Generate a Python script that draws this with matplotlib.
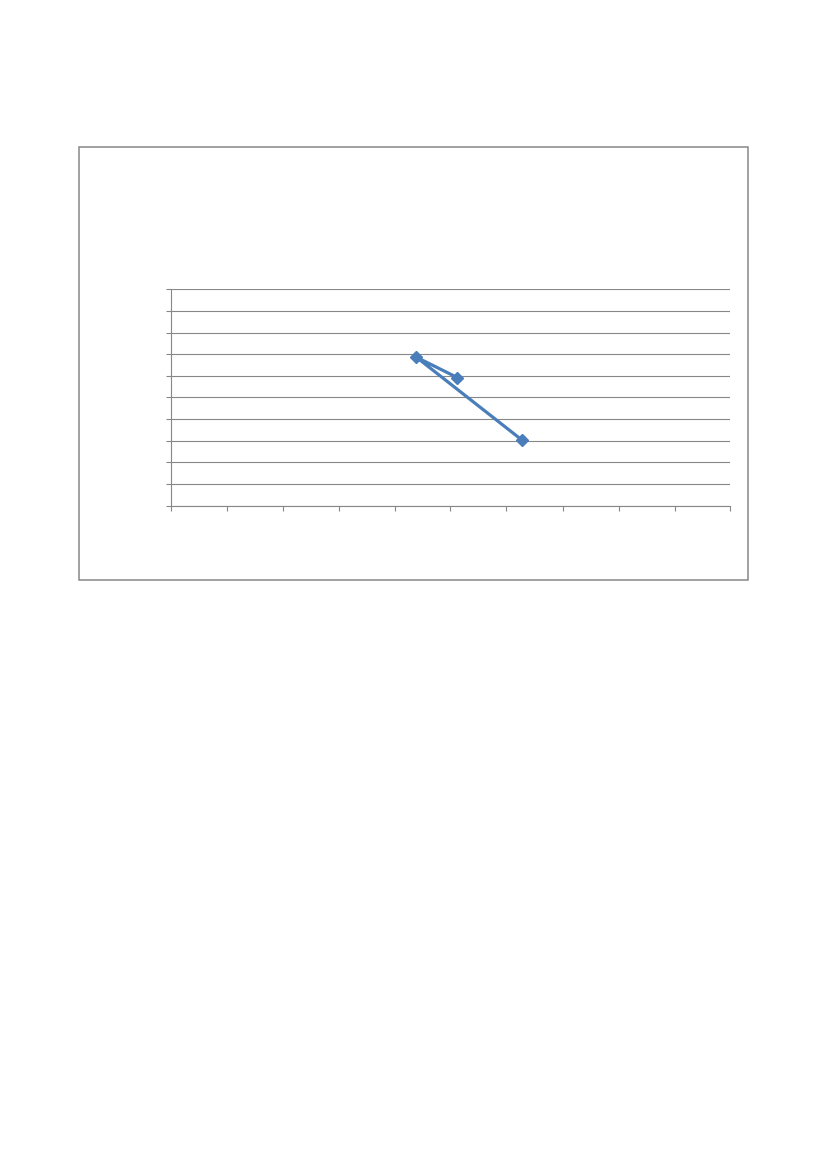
import matplotlib
matplotlib.use("Agg")
import matplotlib.pyplot as plt
from matplotlib.patches import Rectangle

# values (axis units, 0..10 on both axes)
x_vals = [5.12, 4.39, 6.27]
y_vals = [5.92, 6.86, 3.04]
x_ticks = list(range(0, 11))
y_ticks = list(range(0, 11))

W, H = 827, 1169
grey = "#878787"
blue = "#4A7EBB"

fig = plt.figure(figsize=(W / 100, H / 100), dpi=100)

# outer chart frame
fig.patches.append(Rectangle((78.5 / W, 1 - 580 / H), (748 - 78.5) / W, (580 - 147.5) / H,
                             transform=fig.transFigure, fill=False,
                             edgecolor=grey, linewidth=1.1))

# plot area
left, right, top, bottom = 170.5, 730.5, 289.3, 505.5
ax = fig.add_axes([left / W, 1 - bottom / H, (right - left) / W, (bottom - top) / H])
ax.set_xlim(0, 10)
ax.set_ylim(0, 10)
ax.set_xticks(x_ticks)
ax.set_yticks(y_ticks)
ax.set_xticklabels([])
ax.set_yticklabels([])
ax.tick_params(length=3.5, width=0.8, color=grey, direction="out")
ax.grid(axis="y", color=grey, linewidth=0.8)
ax.set_axisbelow(True)
for s in ["top", "right"]:
    ax.spines[s].set_visible(False)
for s in ["left", "bottom"]:
    ax.spines[s].set_color(grey)
    ax.spines[s].set_linewidth(0.8)

ax.plot(x_vals, y_vals, color=blue, linewidth=2.3, marker="D", markersize=6,
        markerfacecolor=blue, markeredgecolor=blue, clip_on=False)

fig.savefig("out.png", dpi=100)
